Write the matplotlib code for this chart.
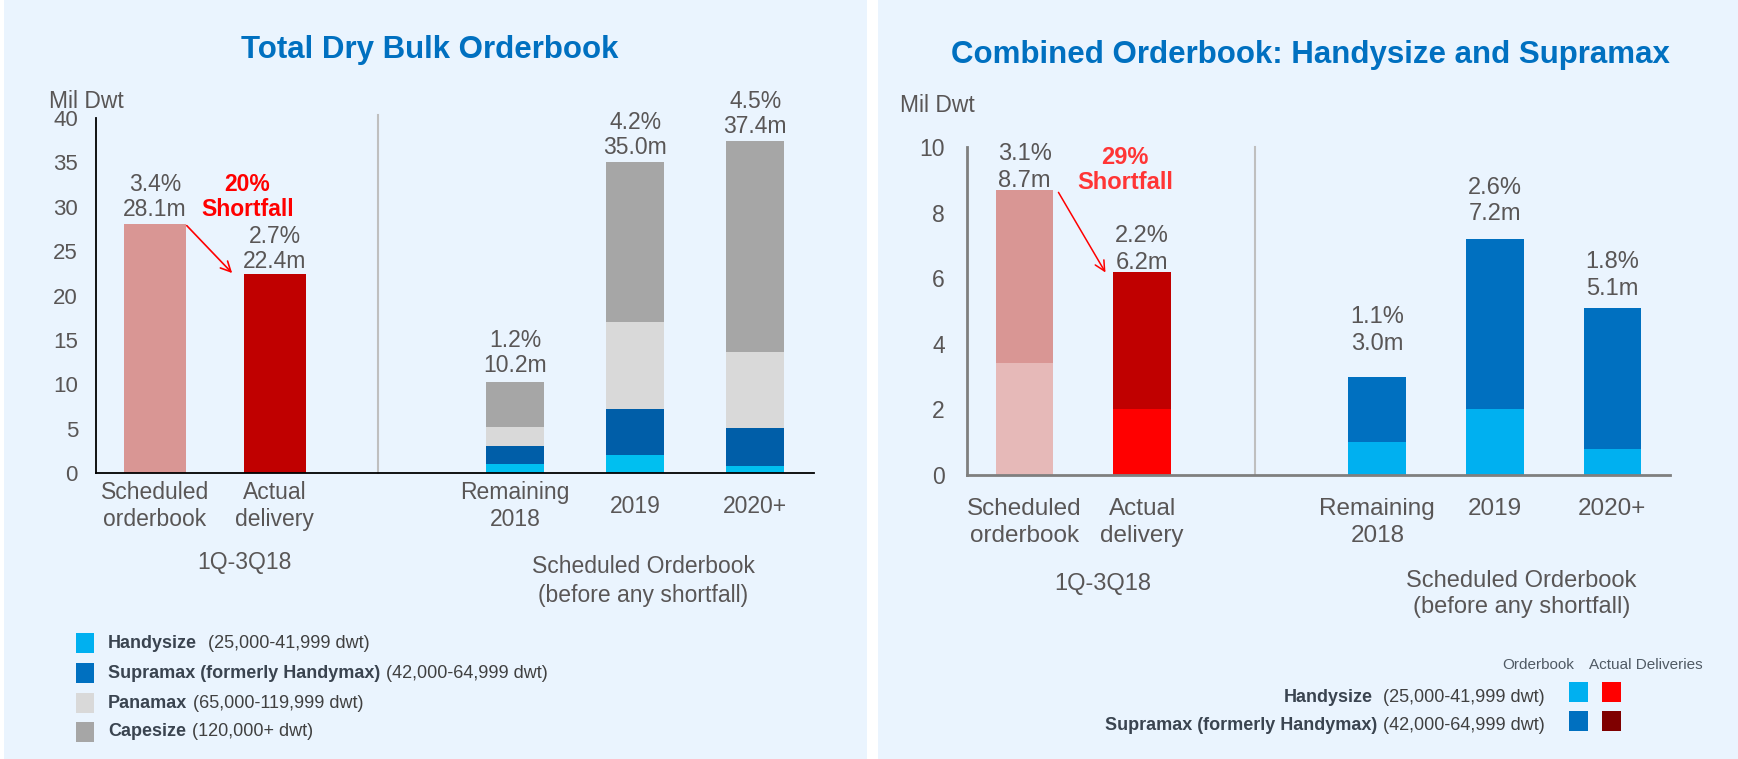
import matplotlib
matplotlib.use("Agg")
import matplotlib.pyplot as plt
from matplotlib.patches import Rectangle

plt.rcParams['font.family'] = ['Liberation Sans', 'DejaVu Sans']

# ---- data (million dwt) ----
period_labels = ['Scheduled\norderbook', 'Actual\ndelivery']
period_totals = [28.1, 22.4]
period_pcts = ['3.4%', '2.7%']

future_labels = ['Remaining\n2018', '2019', '2020+']
handysize_ob = [1.0, 2.0, 0.8]
supramax_ob = [2.0, 5.2, 4.3]
panamax_ob = [2.2, 9.8, 8.5]
capesize_ob = [5.0, 18.0, 23.8]
future_pcts = ['1.2%', '4.2%', '4.5%']

# handysize + supramax only
combo_handy = [3.4, 2.0]        # scheduled, actual (1Q-3Q18)
combo_supra = [5.3, 4.2]
combo_pcts = ['3.1%', '2.2%']
combo_future_pcts = ['1.1%', '2.6%', '1.8%']

shortfall_left = '20%'
shortfall_right = '29%'

# ---- colours ----
BG = '#eaf4fe'
GREY = '#595656'
LEG = '#3a4450'
C_HANDY_L, C_SUPRA_L = '#00bff0', '#005ea8'
C_PANA, C_CAPE = '#d9d9d9', '#a6a6a6'
C_HANDY_R, C_SUPRA_R = '#00b0f0', '#0070c0'

W, H = 1738, 759
fig = plt.figure(figsize=(W / 100, H / 100), dpi=100)
renderer = fig.canvas.get_renderer()


def fx(x):
    return x / W


def fy(y):
    return 1 - y / H


# panel backgrounds
for x0, x1 in [(4, 867), (878, 1738)]:
    fig.patches.append(Rectangle((fx(x0), 0), fx(x1 - x0), 1, transform=fig.transFigure,
                                 facecolor=BG, edgecolor='none', zorder=-5))

pos_period = [0, 1]
pos_future = [3, 4, 5]


def style_axes(ax, spine_color, spine_w, pad, size):
    ax.set_facecolor('none')
    for s in ['top', 'right']:
        ax.spines[s].set_visible(False)
    for s in ['left', 'bottom']:
        ax.spines[s].set_color(spine_color)
        ax.spines[s].set_linewidth(spine_w)
    ax.set_xticks([])
    ax.tick_params(axis='y', length=0, pad=pad, labelsize=size, labelcolor=GREY)
    ax.set_xlim(-0.49, 5.49)


# ================= left: total dry bulk =================
axl = fig.add_axes([fx(96), fy(473), fx(814 - 96), (473 - 118) / H])
style_axes(axl, '#000000', 1.3, 13, 16)
axl.set_ylim(0, 40)
axl.set_yticks(range(0, 41, 5))

axl.bar(pos_period[0], period_totals[0], width=0.52, color='#d99694')
axl.bar(pos_period[1], period_totals[1], width=0.52, color='#c00000')

bottom = [0, 0, 0]
for vals, col in [(handysize_ob, C_HANDY_L), (supramax_ob, C_SUPRA_L),
                  (panamax_ob, C_PANA), (capesize_ob, C_CAPE)]:
    axl.bar(pos_future, vals, width=0.48, bottom=bottom, color=col)
    bottom = [b + v for b, v in zip(bottom, vals)]
future_totals = bottom

pads_l = [2, 1, 4, 2.5, 2.5]
for x, tot, pct, pad in zip(pos_period + pos_future, period_totals + future_totals,
                            period_pcts + future_pcts, pads_l):
    axl.annotate(f'{pct}\n{tot:.1f}m', xy=(x, tot), xytext=(0, pad), textcoords='offset points',
                 ha='center', va='bottom', fontsize=16.5, color=GREY, linespacing=1.08)

axl.plot([1.86, 1.86], [0, 40.3], color='#bfbfbf', lw=1.5, clip_on=False)

axl.annotate('', xy=(0.66, 22.3), xytext=(0.25, 28.1),
             arrowprops=dict(arrowstyle='->', color='#ff0000', lw=1.2, mutation_scale=18))
axl.text(0.77, 31.1, f'{shortfall_left}\nShortfall', ha='center', va='center', fontsize=16.5,
         weight='bold', color='#ff0000', linespacing=1.08)

for x, lab in zip(pos_period + pos_future, period_labels + future_labels):
    axl.text(x, -0.093, lab, transform=axl.get_xaxis_transform(), ha='center', va='center',
             fontsize=16.5, color=GREY, linespacing=1.23)
axl.text(0.743, -0.251, '1Q-3Q18', transform=axl.get_xaxis_transform(), ha='center',
         va='center', fontsize=16.5, color=GREY)
axl.text(4.07, -0.304, 'Scheduled Orderbook\n(before any shortfall)',
         transform=axl.get_xaxis_transform(), ha='center', va='center', fontsize=16.5,
         color=GREY, linespacing=1.3)

fig.text(fx(430), fy(58), 'Total Dry Bulk Orderbook', ha='center', va='baseline',
         fontsize=22.5, weight='bold', color='#0070c0')
fig.text(fx(49), fy(108), 'Mil Dwt', va='baseline', fontsize=16.5, color=GREY)

# legend
leg_rows = [('Handysize', '(25,000-41,999 dwt)', C_HANDY_R, 643, 11),
            ('Supramax (formerly Handymax)', '(42,000-64,999 dwt)', C_SUPRA_R, 673, 6),
            ('Panamax', '(65,000-119,999 dwt)', C_PANA, 703, 6),
            ('Capesize', '(120,000+ dwt)', C_CAPE, 732, 6)]
for bold, rest, col, yc, gap in leg_rows:
    fig.patches.append(Rectangle((fx(76), fy(yc + 10)), fx(18), 20 / H, transform=fig.transFigure,
                                 facecolor=col, edgecolor='none'))
    t = fig.text(fx(108), fy(yc), bold, va='center', fontsize=13, weight='bold', color=LEG)
    bb = t.get_window_extent(renderer)
    fig.text(fx(bb.x1 + gap), fy(yc), rest, va='center', fontsize=13, color='#404040')

# ================= right: handysize + supramax =================
axr = fig.add_axes([fx(967), fy(475), fx(1670 - 967), (475 - 147) / H])
style_axes(axr, '#7f7f7f', 2.0, 16, 16.5)
axr.set_ylim(0, 10)
axr.set_yticks(range(0, 11, 2))

axr.bar(pos_period, combo_handy, width=0.49, color=['#e6b9b8', '#ff0000'])
axr.bar(pos_period, combo_supra, width=0.49, bottom=combo_handy, color=['#d99694', '#c00000'])
axr.bar(pos_future, handysize_ob, width=0.49, color=C_HANDY_R)
axr.bar(pos_future, supramax_ob, width=0.49, bottom=handysize_ob, color=C_SUPRA_R)

combo_totals = [h + s for h, s in zip(combo_handy, combo_supra)]
combo_future = [h + s for h, s in zip(handysize_ob, supramax_ob)]
pads_r = [-1.8, -1.8, 15.5, 9.7, 5.4]
for x, tot, pct, pad in zip(pos_period + pos_future, combo_totals + combo_future,
                            combo_pcts + combo_future_pcts, pads_r):
    axr.annotate(f'{pct}\n{tot:.1f}m', xy=(x, tot), xytext=(0, pad), textcoords='offset points',
                 ha='center', va='bottom', fontsize=17, color=GREY, linespacing=1.28)

axr.plot([1.96, 1.96], [0, 10], color='#bfbfbf', lw=1.5, clip_on=False)

axr.annotate('', xy=(0.70, 6.1), xytext=(0.276, 8.69),
             arrowprops=dict(arrowstyle='->', color='#ff0000', lw=1.1, mutation_scale=18))
axr.text(0.855, 9.3, f'{shortfall_right}\nShortfall', ha='center', va='center', fontsize=17,
         weight='bold', color='#ff3535', linespacing=1.16)

for x, lab in zip(pos_period + pos_future, period_labels + future_labels):
    axr.text(x, -0.070, lab, transform=axr.get_xaxis_transform(), ha='center', va='top',
             fontsize=17.5, color=GREY, linespacing=1.27)
axr.text(0.667, -0.331, '1Q-3Q18', transform=axr.get_xaxis_transform(), ha='center',
         va='center', fontsize=17, color=GREY)
axr.text(4.225, -0.363, 'Scheduled Orderbook\n(before any shortfall)',
         transform=axr.get_xaxis_transform(), ha='center', va='center', fontsize=17,
         color=GREY, linespacing=1.28)

fig.text(fx(1310), fy(63), 'Combined Orderbook: Handysize and Supramax', ha='center',
         va='baseline', fontsize=22.5, weight='bold', color='#0070c0')
fig.text(fx(900), fy(112), 'Mil Dwt', va='baseline', fontsize=16.5, color=GREY)

# legend with orderbook / actual delivery swatches
fig.text(fx(1538), fy(669), 'Orderbook', ha='center', va='baseline', fontsize=11, color='#505a64')
fig.text(fx(1646), fy(669), 'Actual Deliveries', ha='center', va='baseline', fontsize=11,
         color='#505a64')
leg_rows_r = [('Handysize', '(25,000-41,999 dwt)', C_HANDY_R, '#ff0000', 692, 698, 11),
              ('Supramax (formerly Handymax)', '(42,000-64,999 dwt)', C_SUPRA_R, '#7f0000',
               721, 725, 6)]
for bold, rest, c_ob, c_act, ysq, yt, gap in leg_rows_r:
    for x0, col in [(1569, c_ob), (1602, c_act)]:
        fig.patches.append(Rectangle((fx(x0), fy(ysq + 10)), fx(19), 20 / H,
                                     transform=fig.transFigure, facecolor=col, edgecolor='none'))
    t = fig.text(fx(1545), fy(yt), rest, ha='right', va='center', fontsize=13, color='#404040')
    bb = t.get_window_extent(renderer)
    fig.text(fx(bb.x0 - gap), fy(yt), bold, ha='right', va='center', fontsize=13,
             weight='bold', color=LEG)

fig.savefig('out.png', dpi=100, facecolor='white')
